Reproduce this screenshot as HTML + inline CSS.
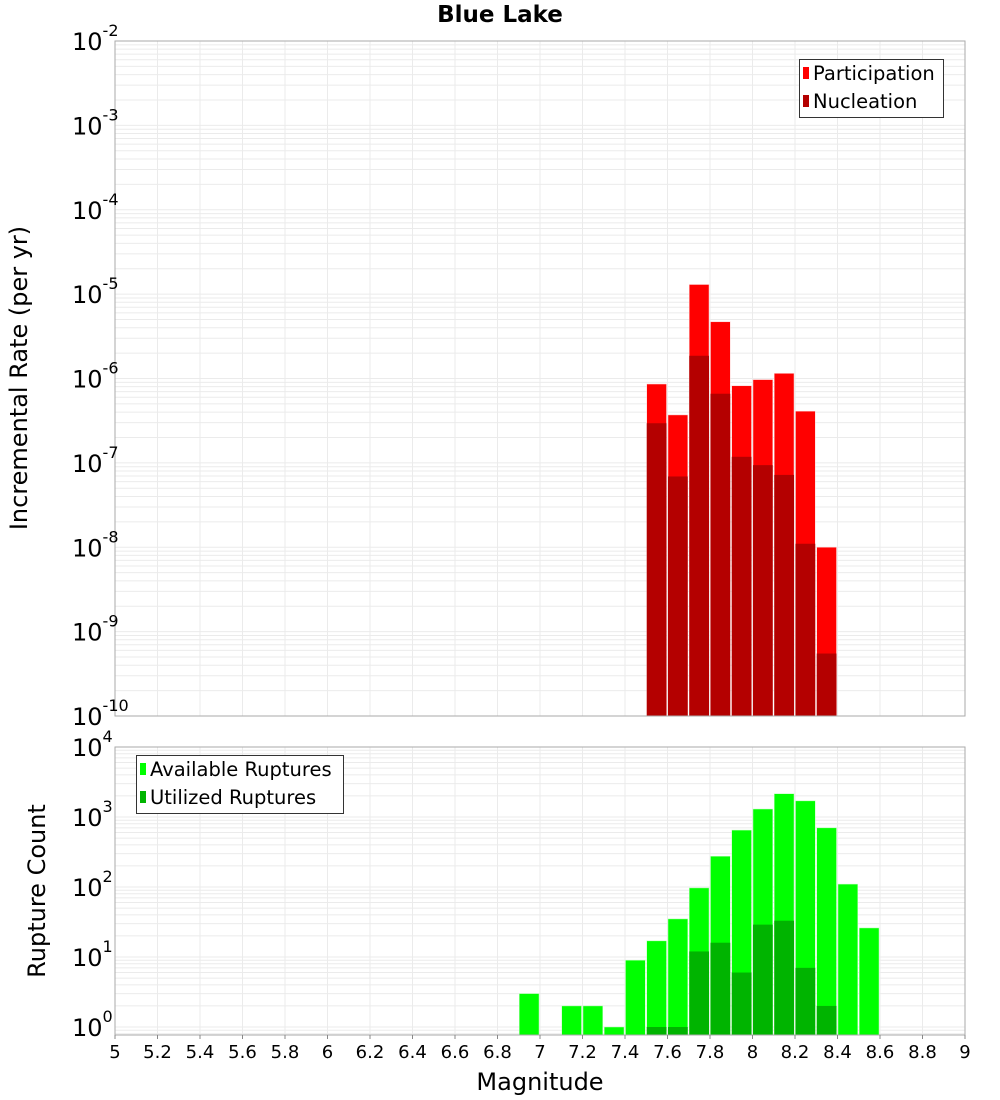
<!DOCTYPE html>
<html><head><meta charset="utf-8"><style>
body{margin:0;background:#fff;}
svg{display:block;font-family:"DejaVu Sans","Liberation Sans",sans-serif;}
</style></head><body>
<svg id="chart" width="1000" height="1100" xmlns="http://www.w3.org/2000/svg"></svg>
<script>
const binCenters = [7.55,7.65,7.75,7.85,7.95,8.05,8.15,8.25,8.35];
const participation = [8.6e-7,3.7e-7,1.3e-5,4.7e-6,8.2e-7,9.7e-7,1.15e-6,4.1e-7,1.0e-8];
const nucleation = [2.95e-7,6.9e-8,1.86e-6,6.6e-7,1.18e-7,9.4e-8,7.2e-8,1.1e-8,5.5e-10];
const countCenters = [6.95,7.15,7.25,7.35,7.45,7.55,7.65,7.75,7.85,7.95,8.05,8.15,8.25,8.35,8.45,8.55];
const available = [3,2,2,1,9,17,35,97,275,650,1300,2150,1700,700,110,26];
const utilized = [0,0,0,0,0,1,1,12,16,6,29,33,7,2,0,0];
const xTicks = [5,5.2,5.4,5.6,5.8,6,6.2,6.4,6.6,6.8,7,7.2,7.4,7.6,7.8,8,8.2,8.4,8.6,8.8,9];
const topExps = [-10,-9,-8,-7,-6,-5,-4,-3,-2];
const botExps = [0,1,2,3,4];

const svg = document.getElementById('chart');
const NS = 'http://www.w3.org/2000/svg';
function mk(tag, attrs, parent, text){
  const e = document.createElementNS(NS, tag);
  for (const k in attrs) e.setAttribute(k, attrs[k]);
  if (text !== undefined) e.textContent = text;
  (parent||svg).appendChild(e);
  return e;
}
const X0=115, X1=965;
const xs = m => X0 + (m-5)/4*(X1-X0);
const T0=41, T1=716;
const yTop = v => T1 - (Math.log10(v)+10)*(T1-T0)/8;
const B0=747, B1=1035, BDEC=70, BONE=1027;
const yBot = v => BONE - Math.log10(v)*BDEC;

let t = mk('text',{x:500,y:22,'text-anchor':'middle','font-size':23,'font-weight':'bold',fill:'#000'},svg,'Blue Lake');
 

function grid(py0,py1,yfn,emin,emax,g){
  for (let e=emin;e<emax;e++) for (let k=1;k<10;k++){
    const y=yfn(k*Math.pow(10,e));
    if (y<py0-0.5||y>py1+0.5) continue;
    mk('line',{x1:X0,x2:X1,y1:y,y2:y,stroke:'#ebebeb','stroke-width':1},g);
  }
  xTicks.forEach(m=>mk('line',{x1:xs(m),x2:xs(m),y1:py0,y2:py1,stroke:'#ebebeb','stroke-width':1},g));
}
const gTop = mk('g',{});
 
grid(T0,T1,yTop,-10,-1,gTop);
const w = (X1-X0)/40;
binCenters.forEach((m,i)=>{
  let r=mk('rect',{x:xs(m)-w/2+0.5,y:yTop(participation[i]),width:w-1.5,height:T1-yTop(participation[i]),fill:'#ff0000',stroke:'#ffd0d0','stroke-width':0.5},gTop);
   
  let n=mk('rect',{x:xs(m)-w/2+0.5,y:yTop(nucleation[i]),width:w-1.5,height:T1-yTop(nucleation[i]),fill:'#b40000'},gTop);
   
});
mk('rect',{x:X0,y:T0,width:X1-X0,height:T1-T0,fill:'none',stroke:'#aaa','stroke-width':1},gTop);
topExps.forEach(e=>{
  const y=yTop(Math.pow(10,e));
  const tx=mk('text',{x:72,y:y+9,'font-size':24,fill:'#000'},svg);
   
  mk('tspan',{},tx,'10');
  mk('tspan',{dy:-14,'font-size':16},tx,String(e));
});
t=mk('text',{x:27,y:378,'text-anchor':'middle','font-size':24,fill:'#000',transform:'rotate(-90 27 378)'},svg,'Incremental Rate (per yr)');
 
const lg=mk('g',{});
 
mk('rect',{x:799.5,y:59.5,width:144,height:58,fill:'#fff',stroke:'#333'},lg);
mk('rect',{x:803,y:67,width:6,height:12,fill:'#ff0000'},lg);
mk('text',{x:813,y:80,'font-size':19.5,fill:'#000'},lg,'Participation');
mk('rect',{x:803,y:95,width:6,height:12,fill:'#b40000'},lg);
mk('text',{x:813,y:108,'font-size':19.5,fill:'#000'},lg,'Nucleation');

const gB = mk('g',{});
 
grid(B0,B1,yBot,-1,4,gB);
countCenters.forEach((m,i)=>{
  if (available[i]>0){
    let r=mk('rect',{x:xs(m)-w/2+0.5,y:yBot(available[i]),width:w-1.5,height:B1-yBot(available[i]),fill:'#00ff00',stroke:'#c0ffc0','stroke-width':0.5},gB);
     
  }
  if (utilized[i]>0){
    let n=mk('rect',{x:xs(m)-w/2+0.5,y:yBot(utilized[i]),width:w-1.5,height:B1-yBot(utilized[i]),fill:'#00b400'},gB);
     
  }
});
mk('rect',{x:X0,y:B0,width:X1-X0,height:B1-B0,fill:'none',stroke:'#aaa','stroke-width':1},gB);
botExps.forEach(e=>{
  const y=yBot(Math.pow(10,e));
  const tx=mk('text',{x:72,y:y+9,'font-size':24,fill:'#000'},svg);
   
  mk('tspan',{},tx,'10');
  mk('tspan',{dy:-14,'font-size':16},tx,String(e));
});
t=mk('text',{x:45,y:891,'text-anchor':'middle','font-size':24,fill:'#000',transform:'rotate(-90 45 891)'},svg,'Rupture Count');
 
const lg2=mk('g',{});
 
mk('rect',{x:136.5,y:755.5,width:207,height:58,fill:'#fff',stroke:'#333'},lg2);
mk('rect',{x:140,y:763,width:6,height:12,fill:'#00ff00'},lg2);
mk('text',{x:150,y:776,'font-size':19.5,fill:'#000'},lg2,'Available Ruptures');
mk('rect',{x:140,y:791,width:6,height:12,fill:'#00b400'},lg2);
mk('text',{x:150,y:804,'font-size':19.5,fill:'#000'},lg2,'Utilized Ruptures');

xTicks.forEach(m=>{
  mk('line',{x1:xs(m),x2:xs(m),y1:B1,y2:B1+4,stroke:'#888'},svg);
  const tx=mk('text',{x:xs(m),y:1058,'text-anchor':'middle','font-size':18,fill:'#000'},svg,String(m));
   
});
t=mk('text',{x:540,y:1090,'text-anchor':'middle','font-size':24,fill:'#000'},svg,'Magnitude');
 
</script>
</body></html>
